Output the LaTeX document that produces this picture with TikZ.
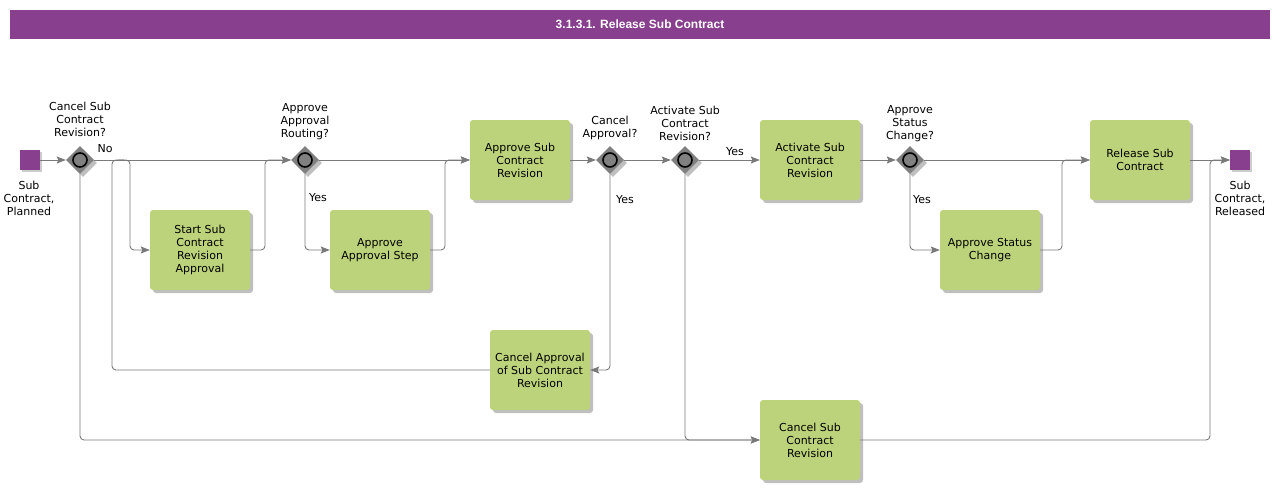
\documentclass[tikz,border=0pt]{standalone}
\usepackage{fontspec}
\setmainfont{DejaVu Sans}
\newfontfamily\titlefont{Liberation Sans}
\usetikzlibrary{arrows.meta,shapes.geometric,shadows}
\definecolor{bpurple}{HTML}{873F8E}
\definecolor{bgreen}{HTML}{BDD37B}
\definecolor{lgray}{HTML}{7A7A7A}
\definecolor{ggray}{HTML}{808080}
\tikzset{
  txt/.style={font=\fontsize{11}{13}\selectfont, align=center, inner sep=0pt},
  taskbox/.style={txt, rectangle, rounded corners=3pt, fill=bgreen,
    minimum width=100pt, minimum height=80pt,
    drop shadow={shadow xshift=3pt, shadow yshift=-3pt, fill=black, opacity=0.25}},
  gwshape/.style={diamond, shape aspect=1, fill=ggray, minimum size=28pt, inner sep=0pt,
    drop shadow={shadow xshift=3pt, shadow yshift=-3pt, fill=black, opacity=0.25}},
  gwring/.style={circle, draw=black, line width=1.6pt, fill=ggray, minimum size=14pt, inner sep=0pt},
  evt/.style={rectangle, fill=bpurple, minimum size=20pt, inner sep=0pt,
    drop shadow={shadow xshift=2pt, shadow yshift=-2pt, fill=black, opacity=0.2}},
  flow/.style={draw=lgray, line width=0.9pt, rounded corners=4pt,
    -{Stealth[length=9pt,width=7pt,inset=1.5pt]}},
  flowplain/.style={draw=lgray, line width=0.9pt, rounded corners=4pt}
}
\newcommand{\gw}[2]{\node[gwshape] (#1) at #2 {}; \node[gwring] at #2 {};}
\begin{document}
\begin{tikzpicture}[x=1pt,y=-1pt]
\useasboundingbox (0,0) rectangle (1285,490);
\fill[white] (0,0) rectangle (1285,490);
% title
\node[fill=bpurple, minimum width=1260pt, minimum height=29pt, inner sep=0pt,
  text=white, font=\titlefont\bfseries\fontsize{12}{14}\selectfont] (title) at (640,24.5) {3.1.3.1. Release Sub Contract};
% events
\node[evt] (start) at (30,160) {};
\node[txt] (startlbl) at (29,198) {Sub\\Contract,\\Planned};
\node[evt] (end) at (1240,160) {};
\node[txt] (endlbl) at (1240,198) {Sub\\Contract,\\Released};
% gateways
\gw{g1}{(80,160)}
\node[txt] (g1lbl) at (80,119) {Cancel Sub\\Contract\\Revision?};
\gw{g2}{(305,160)}
\node[txt] (g2lbl) at (305,122) {Approve\\Approval\\Routing?};
\gw{g3}{(610,160)}
\node[txt] (g3lbl) at (610,127.5) {Cancel\\Approval?};
\gw{g4}{(685,160)}
\node[txt] (g4lbl) at (685,123) {Activate Sub\\Contract\\Revision?};
\gw{g5}{(910,160)}
\node[txt] (g5lbl) at (910,124) {Approve\\Status\\Change?};
% tasks
\node[taskbox] (startsub) at (200,250) {Start Sub\\Contract\\Revision\\Approval};
\node[taskbox] (apstep) at (380,250) {Approve\\Approval Step};
\node[taskbox] (apsub) at (520,160) {Approve Sub\\Contract\\Revision};
\node[taskbox] (cancap) at (540,370) {Cancel Approval\\of Sub Contract\\Revision};
\node[taskbox] (activ) at (810,160) {Activate Sub\\Contract\\Revision};
\node[taskbox] (cansub) at (810,440) {Cancel Sub\\Contract\\Revision};
\node[taskbox] (apstat) at (990,250) {Approve Status\\Change};
\node[taskbox] (release) at (1140,160) {Release Sub\\Contract};
% junction coordinates
\coordinate (m0) at (118,160);
\coordinate (m1) at (112,160);
\coordinate (m1e) at (124,160);
\coordinate (m2) at (130,160);
\coordinate (m3) at (265,160);
\coordinate (m4) at (445,160);
\coordinate (m5) at (1062,160);
\coordinate (m6) at (1210,160);
% flows
\draw[flow] (start) -- (g1);
\draw[flow] (g1.east) -- (g2.west);
\node[txt] (no) at (105,149) {No};
\draw[flow] (m0) -- (m2) |- (startsub.west);
\draw[flow] (startsub.east) -| (m3) -- (g2.west);
\draw[flowplain] (cancap.west) -| (m1) -- (m1e);
\draw[flow] (g1.south) |- (cansub.west);
\draw[flow] (g2.east) -- (apsub.west);
\draw[flow] (g2.south) |- (apstep.west);
\node[txt] (yes2) at (318,198) {Yes};
\draw[flow] (apstep.east) -| (m4) -- (apsub.west);
\draw[flow] (apsub.east) -- (g3.west);
\draw[flow] (g3.south) |- (cancap.east);
\node[txt] (yes3) at (625,200) {Yes};
\draw[flow] (g3.east) -- (g4.west);
\draw[flow] (g4.east) -- (activ.west);
\node[txt] (yes4) at (735,152) {Yes};
\draw[flow] (g4.south) |- (cansub.west);
\draw[flow] (activ.east) -- (g5.west);
\draw[flow] (g5.east) -- (release.west);
\draw[flow] (g5.south) |- (apstat.west);
\node[txt] (yes5) at (922,200) {Yes};
\draw[flow] (apstat.east) -| (m5) -- (release.west);
\draw[flow] (release.east) -- (end.west);
\draw[flow] (cansub.east) -| (m6) -- (end.west);
\end{tikzpicture}
\end{document}
